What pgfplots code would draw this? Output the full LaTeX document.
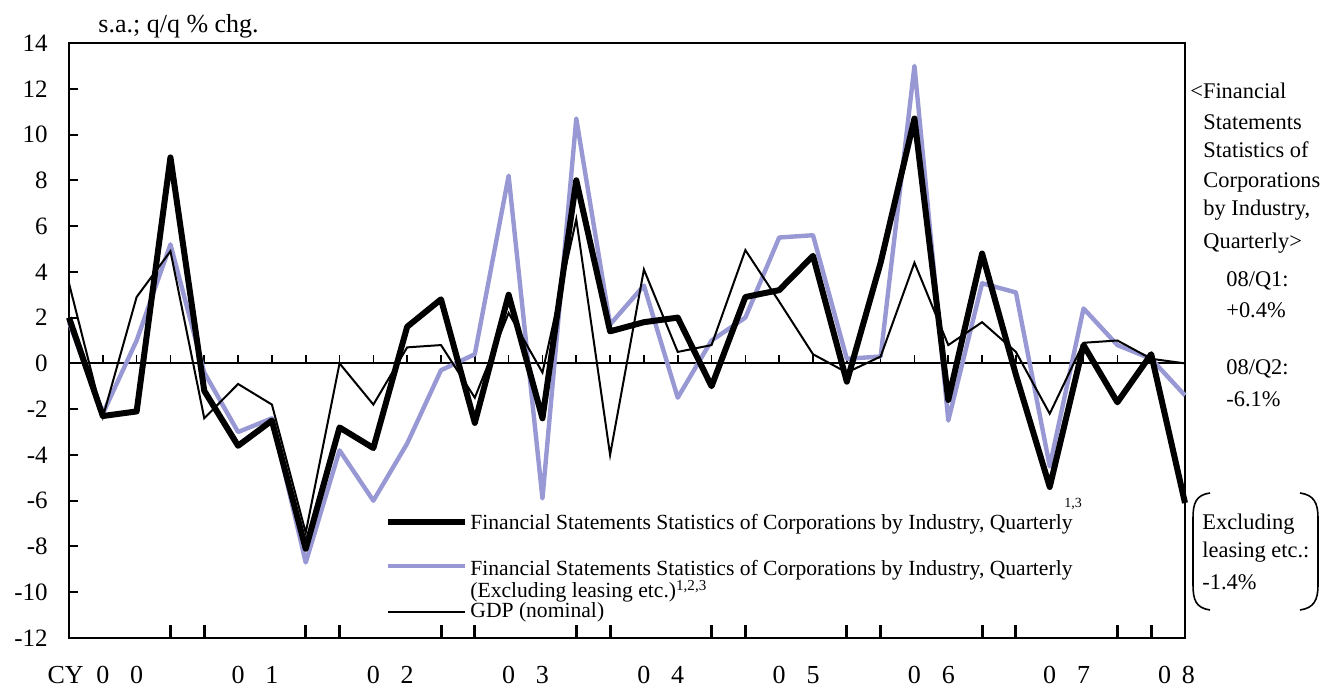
\documentclass[border=0pt]{standalone}
\usepackage{fontspec}
\setmainfont{Liberation Serif}
\usepackage{pgfplots}
\usepackage{pgfplotstable}
\pgfplotsset{compat=1.18}
\usetikzlibrary{calc}
\definecolor{exlease}{RGB}{152,152,212}

% q: quarter index from 2000/Q1; fss, fssx (excl. leasing), gdp: q/q % chg.
\pgfplotstableread{
q fss fssx gdp
0 2.0 1.8 3.5
1 -2.3 -2.2 -2.35
2 -2.1 1.0 2.9
3 9.0 5.2 4.9
4 -1.2 -0.4 -2.4
5 -3.6 -3.0 -0.9
6 -2.5 -2.4 -1.8
7 -8.1 -8.7 -7.4
8 -2.8 -3.8 0.0
9 -3.7 -6.0 -1.8
10 1.6 -3.5 0.7
11 2.8 -0.3 0.8
12 -2.6 0.4 -1.5
13 3.0 8.2 2.2
14 -2.4 -5.9 -0.4
15 8.0 10.7 6.3
16 1.4 1.7 -4.0
17 1.8 3.4 4.1
18 2.0 -1.5 0.5
19 -1.0 1.0 0.8
20 2.9 2.0 4.95
21 3.2 5.5 2.7
22 4.7 5.6 0.4
23 -0.8 0.2 -0.4
24 4.4 0.3 0.3
25 10.7 13.0 4.4
26 -1.6 -2.5 0.8
27 4.8 3.5 1.8
28 -0.5 3.1 0.5
29 -5.4 -4.5 -2.2
30 0.8 2.4 0.9
31 -1.7 0.8 1.0
32 0.4 0.2 0.2
33 -6.1 -1.4 0.0
}\qdata

\begin{document}
\fontsize{11}{13}\selectfont
\begin{tikzpicture}
\begin{axis}[
  scale only axis, width=558pt, height=297.5pt,
  xmin=0, xmax=33, ymin=-12, ymax=14,
  clip=false,
  axis line style={line width=1.4pt},
  xtick=\empty,
  ytick={-12,-10,...,14},
  ytick pos=left, tick align=inside,
  major tick length=4.5pt,
  tick style={line width=1pt, black},
  yticklabel style={font=\fontsize{12.5}{14}\selectfont, anchor=east, inner sep=0pt, xshift=-10.5pt},
  /pgf/number format/assume math mode=true,
]
\coordinate (sw) at (rel axis cs:0,0);
\draw[line width=1pt] (axis cs:0,0) -- (axis cs:33,0);
\pgfplotsinvokeforeach{1,...,32}{\draw[line width=0.8pt] (axis cs:#1,0) -- (axis cs:#1,0.35);}
\pgfplotsinvokeforeach{3,4,7,8,11,12,15,16,19,20,23,24,27,28,31,32}{\draw[line width=1.5pt] (axis cs:#1,-12) -- (axis cs:#1,-11.43);}

\addplot[exlease, line width=2.2pt, line join=round] table[x=q, y=fssx] {\qdata};
\addplot[black, line width=3pt, line join=round] table[x=q, y=fss] {\qdata};
\addplot[black, line width=1pt] table[x=q, y=gdp] {\qdata};

% year labels
\begin{scope}[every node/.style={anchor=base, inner sep=0pt, yshift=-23pt, font=\fontsize{13}{15}\selectfont}]
\node at (axis cs:-0.1,-12) {CY};
\pgfplotsinvokeforeach{1,5,9,13,17,21,25,29}{\node at (axis cs:#1,-12) {0};}
\node at (axis cs:2,-12) {0};
\node at (axis cs:6,-12) {1};
\node at (axis cs:10,-12) {2};
\node at (axis cs:14,-12) {3};
\node at (axis cs:18,-12) {4};
\node at (axis cs:22,-12) {5};
\node at (axis cs:26,-12) {6};
\node at (axis cs:30,-12) {7};
\node at (axis cs:32.4,-12) {0};
\node at (axis cs:33.1,-12) {8};
\end{scope}
\end{axis}

\begin{scope}[shift={($(sw)+(-34.5pt,319pt)$)}, x=0.5pt, y=-0.5pt,
  every node/.style={inner sep=0pt, anchor=base west}]
\node[font=\fontsize{13}{15}\selectfont] at (98,33) {s.a.; q/q \% chg.};
% legend
\begin{scope}[every node/.append style={font=\fontsize{10.8}{13}\selectfont}]
\draw[black, line width=3pt] (388,522) -- (465,522);
\node at (470,530) {Financial Statements Statistics of Corporations by Industry, Quarterly};
\node[font=\fontsize{7}{8}\selectfont] at (1064,508) {1,3};
\draw[exlease, line width=2.2pt] (388,566) -- (465,566);
\node at (470,576) {Financial Statements Statistics of Corporations by Industry, Quarterly};
\node at (470,598) {(Excluding leasing etc.)\textsuperscript{1,2,3}};
\draw[black, line width=1pt] (388,612) -- (465,612);
\node at (470,618) {GDP (nominal)};
\end{scope}
% right-hand notes
\begin{scope}[every node/.append style={font=\fontsize{11.2}{14}\selectfont}]
\node at (1190,99) {<Financial};
\node at (1203,130) {Statements};
\node at (1203,158) {Statistics of};
\node at (1203,188) {Corporations};
\node at (1203,216) {by Industry,};
\node at (1203,249) {Quarterly>};
\node at (1226,287) {08/Q1:};
\node at (1226,318) {+0.4\%};
\node at (1226,375) {08/Q2:};
\node at (1226,407) {-6.1\%};
\node at (1202,530) {Excluding};
\node at (1202,558) {leasing etc.:};
\node at (1202,590) {-1.4\%};
\end{scope}
\draw[line width=0.8pt] (1210,493) .. controls (1196,495) and (1193,503) .. (1193,518) -- (1193,585)
  .. controls (1193,600) and (1196,608) .. (1210,610);
\draw[line width=0.8pt] (1300,493) .. controls (1314,495) and (1318,503) .. (1318,518) -- (1318,585)
  .. controls (1318,600) and (1314,608) .. (1300,610);
\end{scope}
\pgfresetboundingbox
\path[use as bounding box] ($(sw)+(-34.5pt,319pt)$) rectangle ($(sw)+(626.5pt,-25.5pt)$);
\end{tikzpicture}
\end{document}
